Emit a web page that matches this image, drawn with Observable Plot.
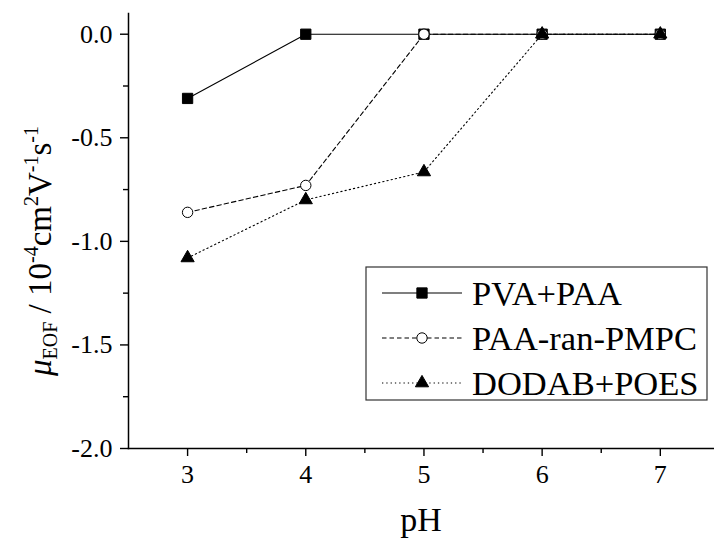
<!DOCTYPE html>
<html>
<head>
<meta charset="utf-8">
<script src="https://cdn.jsdelivr.net/npm/d3@7"></script>
<script src="https://cdn.jsdelivr.net/npm/@observablehq/plot@0.6"></script>
<style>
  html, body { margin: 0; padding: 0; background: #fff; }
  #chart svg { display: block; }
  #chart svg text { font-family: "Liberation Serif", "Times New Roman", Times, serif !important; }
</style>
</head>
<body>
<div id="chart"></div>
<script>
// Electroosmotic mobility of coated capillaries versus buffer pH
const pH = [3, 4, 5, 6, 7];
const pvaPaa = [-0.31, 0, 0, 0, 0];
const paaRanPmpc = [-0.86, -0.73, 0, 0, 0];
const dodabPoes = [-1.08, -0.80, -0.665, 0, 0];
const seriesNames = ["PVA+PAA", "PAA-ran-PMPC", "DODAB+POES"];

const xTicks = [3, 4, 5, 6, 7];
const xMinorTicks = [3.5, 4.5, 5.5, 6.5];
const yTicks = [0, -0.5, -1.0, -1.5, -2.0];
const yMinorTicks = [-0.25, -0.75, -1.25, -1.75];

const serif = '"Liberation Serif", "Times New Roman", Times, serif';

const rows = (values) => pH.map((p, i) => ({pH: p, mu: values[i]}));
const pva = rows(pvaPaa);
const pmpc = rows(paaRanPmpc);
const dodab = rows(dodabPoes);

// line and marker style for each series, shared with the legend
const styles = [
  {dash: null, symbol: "square", r: 5.8, fill: "black"},
  {dash: "4.5,3", symbol: "circle", r: 5.2, fill: "white"},
  {dash: "1.3,3", symbol: "triangle", r: 4.9, fill: "black"}
];

const seriesMarks = [pva, pmpc, dodab].flatMap((data, i) => [
  Plot.line(data, {x: "pH", y: "mu", stroke: "black", strokeWidth: 1.1,
    strokeDasharray: styles[i].dash}),
  Plot.dot(data, {x: "pH", y: "mu", symbol: () => styles[i].symbol, r: styles[i].r,
    fill: styles[i].fill, stroke: "black", strokeWidth: 1})
]);

const plot = Plot.plot({
  width: 714,
  height: 540,
  marginLeft: 128,
  marginRight: 1,
  marginTop: 13,
  marginBottom: 92,
  x: {domain: [2.5, 7.45], label: null},
  y: {domain: [-2, 0.1], label: null},
  symbol: {type: "identity"},
  style: {fontFamily: serif, fontSize: "26px", color: "black", background: "white"},
  marks: [
    Plot.axisX({ticks: xTicks, tickSize: 8, tickPadding: 8, fontSize: 26, fontFamily: serif,
      strokeWidth: 1.4, tickFormat: d => String(d), label: null}),
    Plot.axisX({ticks: xMinorTicks, tickSize: 5, strokeWidth: 1.4,
      tickFormat: () => "", label: null}),
    Plot.axisY({ticks: yTicks, tickSize: 8, tickPadding: 8, fontSize: 26, fontFamily: serif,
      strokeWidth: 1.4, tickFormat: d => d.toFixed(1), label: null}),
    Plot.axisY({ticks: yMinorTicks, tickSize: 5, strokeWidth: 1.4,
      tickFormat: () => "", label: null}),
    Plot.frame({anchor: "left", strokeWidth: 1.5}),
    Plot.frame({anchor: "bottom", strokeWidth: 1.5}),
    Plot.text(["pH"], {frameAnchor: "bottom", lineAnchor: "bottom", dy: 82,
      fontSize: 34, fontFamily: serif}),
    ...seriesMarks
  ]
});

document.getElementById("chart").appendChild(plot);

const svg = d3.select(plot);

// y-axis title with italic mu, subscript and superscripts
const yTitle = svg.append("text")
  .attr("transform", "translate(51,251) rotate(-90)")
  .attr("text-anchor", "middle")
  .attr("font-family", serif)
  .attr("font-size", 33)
  .attr("fill", "black");
const small = 20, sub = 6, sup = 13;
yTitle.append("tspan").attr("font-style", "italic").text("\u03BC");
yTitle.append("tspan").attr("font-size", small).attr("dy", sub).text("EOF");
yTitle.append("tspan").attr("dy", -sub).text(" / 10");
yTitle.append("tspan").attr("font-size", small).attr("dy", -sup).text("-4");
yTitle.append("tspan").attr("dy", sup).text("cm");
yTitle.append("tspan").attr("font-size", small).attr("dy", -sup).text("2");
yTitle.append("tspan").attr("dy", sup).text("V");
yTitle.append("tspan").attr("font-size", small).attr("dy", -sup).text("-1");
yTitle.append("tspan").attr("dy", sup).text("s");
yTitle.append("tspan").attr("font-size", small).attr("dy", -sup).text("-1");

// legend box
const legend = svg.append("g").attr("transform", "translate(366,267)");
legend.append("rect")
  .attr("width", 341).attr("height", 133)
  .attr("fill", "white").attr("stroke", "#333").attr("stroke-width", 1.2);
const symbolTypes = {square: d3.symbolSquare, circle: d3.symbolCircle, triangle: d3.symbolTriangle};
seriesNames.forEach((name, i) => {
  const s = styles[i];
  const g = legend.append("g").attr("transform", `translate(0,${26 + i * 45})`);
  g.append("line")
    .attr("x1", 16).attr("x2", 96)
    .attr("stroke", "black").attr("stroke-width", 1.1)
    .attr("stroke-dasharray", s.dash);
  g.append("path")
    .attr("transform", "translate(56,0)")
    .attr("d", d3.symbol(symbolTypes[s.symbol], Math.PI * s.r * s.r)())
    .attr("fill", s.fill).attr("stroke", "black").attr("stroke-width", 1);
  g.append("text")
    .attr("x", 106).attr("dy", "0.35em")
    .attr("text-anchor", "start")
    .attr("font-family", serif).attr("font-size", 34.5)
    .attr("fill", "black")
    .text(name);
});
</script>
</body>
</html>
